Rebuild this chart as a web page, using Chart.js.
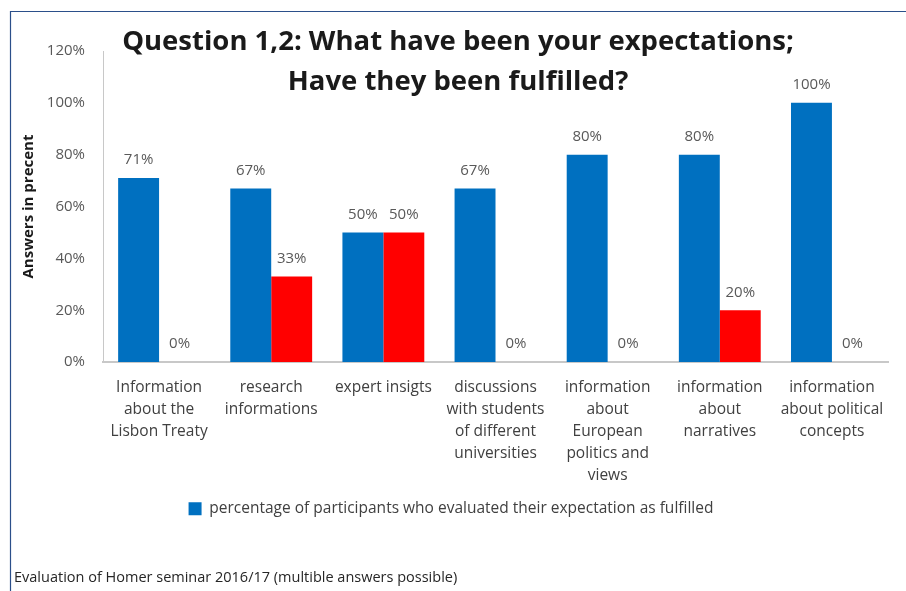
<!DOCTYPE html>
<html>
<head>
<meta charset="utf-8">
<script src="https://cdn.jsdelivr.net/npm/chart.js@4.4.1/dist/chart.umd.min.js"></script>
<style>
  html, body { margin: 0; padding: 0; background: #ffffff; }
  #wrap { position: relative; width: 906px; height: 591px; }
</style>
</head>
<body>
<div id="wrap"><canvas id="expect-chart"></canvas></div>
<script>
// Categorias e valores (em %)
const categorias = [
    ['Information', 'about the', 'Lisbon Treaty'],
    ['research', 'informations'],
    ['expert insigts'],
    ['discussions', 'with students', 'of different', 'universities'],
    ['information', 'about', 'European', 'politics and', 'views'],
    ['information', 'about', 'narratives'],
    ['information', 'about political', 'concepts']
];
const cumpridas = [71, 67, 50, 67, 80, 80, 100];
const naoCumpridas = [0, 33, 50, 0, 0, 20, 0];
const ticksY = [0, 20, 40, 60, 80, 100, 120];

const tituloLinhas = ['Question 1,2: What have been your expectations;', 'Have they been fulfilled?'];
const rodape = 'Evaluation of Homer seminar 2016/17 (multible answers possible)';

const fonte = "'Open Sans', 'DejaVu Sans', sans-serif";

// Moldura azul, título sobreposto e rótulos de valor
const pluginExtras = {
    id: 'extras',
    beforeDraw(chart) {
        const ctx = chart.ctx;
        ctx.save();
        ctx.fillStyle = '#ffffff';
        ctx.fillRect(0, 0, chart.width, chart.height);
        ctx.strokeStyle = '#2b4f8a';
        ctx.lineWidth = 1.2;
        ctx.beginPath();
        ctx.moveTo(10.5, chart.height);
        ctx.lineTo(10.5, 11.5);
        ctx.lineTo(chart.width, 11.5);
        ctx.stroke();
        ctx.restore();
    },
    afterDatasetsDraw(chart) {
        const ctx = chart.ctx;
        ctx.save();
        ctx.font = '15px ' + fonte;
        ctx.fillStyle = '#595959';
        ctx.textAlign = 'center';
        ctx.textBaseline = 'middle';
        chart.data.datasets.forEach((ds, i) => {
            chart.getDatasetMeta(i).data.forEach((bar, j) => {
                ctx.fillText(ds.data[j] + '%', bar.x, bar.y - 18);
            });
        });
        // título em duas linhas
        ctx.font = 'bold 27.5px ' + fonte;
        ctx.fillStyle = '#1a1a1a';
        ctx.fillText(tituloLinhas[0], 458, 42);
        ctx.fillText(tituloLinhas[1], 458, 82);
        ctx.restore();
    }
};

const ctx = document.getElementById('expect-chart');
new Chart(ctx, {
    type: 'bar',
    data: {
        labels: categorias,
        datasets: [
            {
                label: 'percentage of participants who evaluated their expectation as fulfilled',
                data: cumpridas,
                backgroundColor: '#0070c0',
                borderWidth: 0
            },
            {
                label: 'not fulfilled',
                data: naoCumpridas,
                backgroundColor: '#ff0000',
                borderWidth: 0
            }
        ]
    },
    options: {
        responsive: true,
        maintainAspectRatio: false,
        animation: false,
        datasets: {
            bar: {
                categoryPercentage: 0.73,
                barPercentage: 1.0
            }
        },
        layout: {
            padding: { left: 14, right: 18, top: 51, bottom: 2 }
        },
        plugins: {
            legend: {
                position: 'bottom',
                labels: {
                    filter: item => item.datasetIndex === 0,
                    boxWidth: 13,
                    boxHeight: 13,
                    padding: 4,
                    color: '#404040',
                    font: { family: fonte, size: 15.5 }
                }
            },
            subtitle: {
                display: true,
                position: 'bottom',
                align: 'start',
                text: rodape,
                color: '#262626',
                font: { family: fonte, size: 14.5 },
                padding: { top: 43, bottom: 2 }
            },
            tooltip: { enabled: false }
        },
        scales: {
            x: {
                grid: { display: false },
                border: { display: true, color: '#c8c8c8', width: 2 },
                ticks: {
                    color: '#404040',
                    padding: 6,
                    maxRotation: 0,
                    autoSkip: false,
                    font: { family: fonte, size: 15.5, lineHeight: 1.42 }
                },
                afterFit: scale => { scale.height = 135; }
            },
            y: {
                min: 0,
                max: 120,
                afterBuildTicks: scale => {
                    scale.ticks = ticksY.map(v => ({ value: v }));
                },
                grid: { display: false },
                border: { display: true, color: '#c8c8c8', width: 1 },
                ticks: {
                    color: '#595959',
                    padding: 10,
                    font: { family: fonte, size: 15 },
                    callback: value => value + '%'
                },
                title: {
                    display: true,
                    text: 'Answers in precent',
                    color: '#1a1a1a',
                    padding: { top: 6, bottom: 0 },
                    font: { family: fonte, size: 15, weight: 'bold' }
                },
                afterFit: scale => { scale.width = 89; }
            }
        }
    },
    plugins: [pluginExtras]
});
</script>
</body>
</html>
